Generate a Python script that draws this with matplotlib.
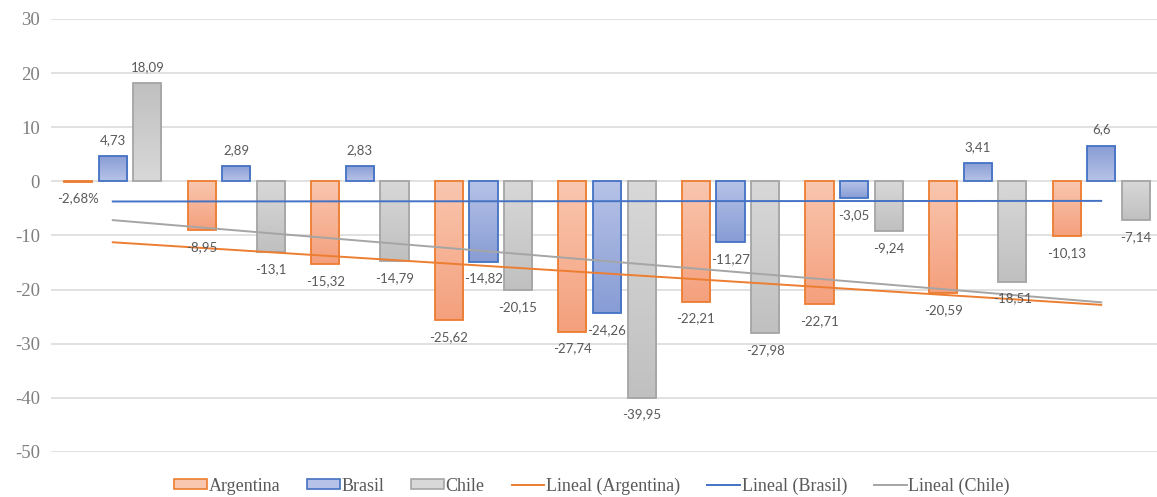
import numpy as np
import matplotlib
matplotlib.use('Agg')
import matplotlib.pyplot as plt
from matplotlib.colors import LinearSegmentedColormap
from matplotlib.patches import Patch
from matplotlib.lines import Line2D

plt.rcParams['axes.unicode_minus'] = False

# values per country, nine periods (first Argentina value is a percentage: -2,68%)
argentina = [-0.0268, -8.95, -15.32, -25.62, -27.74, -22.21, -22.71, -20.59, -10.13]
brasil = [4.73, 2.89, 2.83, -14.82, -24.26, -11.27, -3.05, 3.41, 6.6]
chile = [18.09, -13.1, -14.79, -20.15, -39.95, -27.98, -9.24, -18.51, -7.14]
arg_labels = ['-2,68%', '-8,95', '-15,32', '-25,62', '-27,74', '-22,21', '-22,71', '-20,59', '-10,13']
names = ['Argentina', 'Brasil', 'Chile']
yticks = [30, 20, 10, 0, -10, -20, -30, -40, -50]

edge = ['#ED7D31', '#4472C4', '#A5A5A5']
grads = [('#F9C6AF', '#F4A07D'), ('#B6C2E7', '#889DD5'), ('#D8D8D8', '#C0C0C0')]

def fmt(v):
    return ('%g' % v).replace('.', ',')

fig = plt.figure(figsize=(11.57, 4.97), dpi=100)
ax = fig.add_axes([51/1157, 45/497, 1112/1157, 433/497])

x = np.arange(len(argentina))
w = 0.228
offs = [-0.28, 0, 0.28]
series = [argentina, brasil, chile]

for k, vals in enumerate(series):
    cmap = LinearSegmentedColormap.from_list('g%d' % k, grads[k])
    bars = ax.bar(x + offs[k], vals, w, facecolor='none', edgecolor=edge[k],
                  linewidth=1.3, zorder=3)
    for b in bars:
        x0, y0 = b.get_xy()
        im = ax.imshow(np.linspace(0, 1, 64).reshape(-1, 1), cmap=cmap, origin='lower',
                       extent=[x0, x0 + b.get_width(), y0, y0 + b.get_height()],
                       aspect='auto', zorder=2.5)
        im.set_clip_path(b)
    for i, v in enumerate(vals):
        txt = arg_labels[i] if k == 0 else fmt(v)
        dy = 16 if v >= 0 else -17
        ax.annotate(txt, (x[i] + offs[k], v), xytext=(0, dy), textcoords='offset pixels',
                    ha='center', va='center', fontsize=9.5, color='#595959',
                    family='Lato', zorder=5)

# linear trend for each country
for k, vals in enumerate(series):
    m, c = np.polyfit(x, vals, 1)
    ax.plot([x[0], x[-1]], [m * x[0] + c, m * x[-1] + c], color=edge[k], lw=1.4, zorder=4)

ax.set_xlim(-0.5, 8.5)
ax.set_ylim(-50, 30)
ax.set_yticks(yticks)
ax.set_xticks([])
ax.yaxis.grid(True, color='#D9D9D9', lw=1.1)
ax.set_axisbelow(True)
for s in ax.spines.values():
    s.set_visible(False)
ax.tick_params(axis='y', length=0, pad=8, labelsize=13.5, labelcolor='#7F7F7F')
for t in ax.get_yticklabels():
    t.set_family('Liberation Serif')

handles = [Patch(facecolor=grads[k][0], edgecolor=edge[k], lw=1.2) for k in range(3)]
handles += [Line2D([], [], color=edge[k], lw=1.4) for k in range(3)]
labels = names + ['Lineal (%s)' % n for n in names]
fig.legend(handles, labels, loc='center', bbox_to_anchor=(592/1157, 1 - 486/497), ncol=6,
           frameon=False, prop={'family': 'Liberation Serif', 'size': 13},
           handlelength=1.8, handleheight=0.45, handletextpad=0.1, columnspacing=1.5,
           labelcolor='#595959')

fig.savefig('out.png', dpi=100)
